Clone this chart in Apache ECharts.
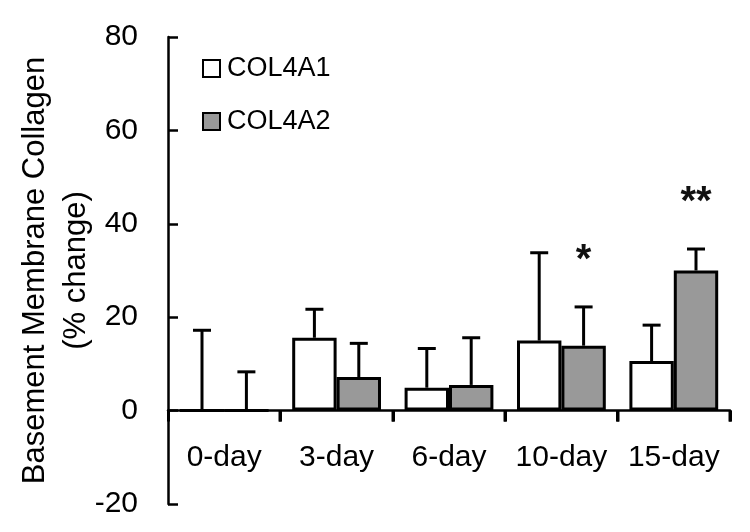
<!DOCTYPE html>
<html>
<head>
<meta charset="utf-8">
<script src="https://cdn.jsdelivr.net/npm/echarts@6/dist/echarts.min.js"></script>
<style>
  html, body { margin: 0; padding: 0; background: #fff; }
  #chart { width: 750px; height: 532px; }
</style>
</head>
<body>
<div id="chart"></div>
<script>
const categories = ["0-day", "3-day", "6-day", "10-day", "15-day"]
const col4a1 = [0, 15.6, 4.9, 15.0, 10.6]
const col4a1Err = [17.2, 6.1, 8.4, 18.8, 7.7]
const col4a2 = [0, 7.2, 5.5, 13.9, 30.0]
const col4a2Err = [8.3, 7.2, 10.1, 8.3, 4.6]
const significance = ["", "", "", "*", "**"]
const yTicks = [-20, 0, 20, 40, 60, 80]

const FONT = "Liberation Sans, Arial, sans-serif"
const CAT_GAP = 0.21
const GRID_TOP = 37
const GRID_BOTTOM = 28
const PLOT_H = 532 - GRID_TOP - GRID_BOTTOM
const Y_MIN = yTicks[0]
const Y_MAX = yTicks[yTicks.length - 1]
// distance from grid bottom up to the zero line
const ZERO_OFFSET = PLOT_H * (0 - Y_MIN) / (Y_MAX - Y_MIN)

const chart = echarts.init(document.getElementById("chart"))

// upper whisker only, like the original figure
// withTick: also draw the category boundary tick under the zero line
function errorRender(side, means, errs, withTick) {
  return function (params, api) {
    const i = api.value(0)
    const catW = api.size([1, 0])[0]
    const barW = catW * (1 - CAT_GAP) / 2
    const base = api.coord([i, means[i]])
    const zero = api.coord([i, 0])
    const top = api.coord([i, means[i] + errs[i]])
    const x = base[0] + side * barW / 2
    const style = { stroke: "#000", lineWidth: 3 }
    const children = [
      { type: "line", shape: { x1: x, y1: base[1], x2: x, y2: top[1] }, style },
      { type: "line", shape: { x1: x - 9, y1: top[1], x2: x + 9, y2: top[1] }, style }
    ]
    if (withTick) {
      const tx = Math.round(zero[0] + catW / 2)
      children.push({
        type: "rect",
        shape: { x: tx - 1.5, y: zero[1], width: 3, height: 11 },
        style: { fill: "#000" },
        z2: 100
      })
    }
    return { type: "group", children }
  }
}

function sigRender(params, api) {
  const i = api.value(0)
  if (!significance[i]) return null
  const catW = api.size([1, 0])[0]
  const barW = catW * (1 - CAT_GAP) / 2
  const top = api.coord([i, col4a2[i] + col4a2Err[i]])
  return {
    type: "text",
    style: {
      text: significance[i],
      x: top[0] + barW / 2,
      y: top[1] - 46,
      align: "center",
      verticalAlign: "middle",
      font: "bold 40px " + FONT,
      fill: "#111"
    }
  }
}

chart.setOption({
  animation: false,
  textStyle: { fontFamily: FONT },
  grid: { left: 168, right: 20, top: GRID_TOP, bottom: GRID_BOTTOM, outerBoundsMode: "none", containLabel: false },
  legend: {
    orient: "vertical",
    left: 197,
    top: 50,
    itemWidth: 17,
    itemHeight: 17,
    itemGap: 26,
    icon: "rect",
    textStyle: { fontSize: 27, color: "#000", padding: [0, 0, 0, 2] },
    data: ["COL4A1", "COL4A2"]
  },
  xAxis: {
    type: "category",
    data: categories,
    offset: -ZERO_OFFSET,
    axisLine: { onZero: false, lineStyle: { color: "#000", width: 2.5 } },
    axisTick: { show: true, interval: 0, length: 11, lineStyle: { color: "#000", width: 3 } },
    axisLabel: { fontSize: 30, color: "#000", margin: 32, interval: 0, hideOverlap: false }
  },
  yAxis: {
    type: "value",
    min: Y_MIN,
    max: Y_MAX,
    interval: 20,
    name: "Basement Membrane Collagen\n(% change)",
    nameLocation: "middle",
    nameGap: 71,
    nameMoveOverlap: false,
    nameTextStyle: { fontSize: 31, color: "#000", lineHeight: 41, align: "center" },
    axisLine: { show: true, lineStyle: { color: "#000", width: 2.5 } },
    axisTick: { show: true, inside: true, length: 10, lineStyle: { color: "#000", width: 2.5 } },
    axisLabel: { fontSize: 30, color: "#000", margin: 30 },
    splitLine: { show: false }
  },
  series: [
    {
      name: "COL4A1",
      type: "bar",
      data: col4a1,
      barGap: "0%",
      barCategoryGap: CAT_GAP * 100 + "%",
      itemStyle: { color: "#fff", borderColor: "#000", borderWidth: 3 }
    },
    {
      name: "COL4A2",
      type: "bar",
      data: col4a2,
      barGap: "0%",
      barCategoryGap: CAT_GAP * 100 + "%",
      itemStyle: { color: "#999", borderColor: "#000", borderWidth: 3 }
    },
    {
      type: "custom",
      renderItem: errorRender(-1, col4a1, col4a1Err, true),
      data: categories.map((c, i) => [i, col4a1[i] + col4a1Err[i]]),
      clip: false,
      z: 5
    },
    {
      type: "custom",
      renderItem: errorRender(1, col4a2, col4a2Err, false),
      data: categories.map((c, i) => [i, col4a2[i] + col4a2Err[i]]),
      z: 3
    },
    {
      type: "custom",
      renderItem: sigRender,
      data: categories.map((c, i) => [i, col4a2[i] + col4a2Err[i]]),
      z: 4
    }
  ]
})
</script>
</body>
</html>
